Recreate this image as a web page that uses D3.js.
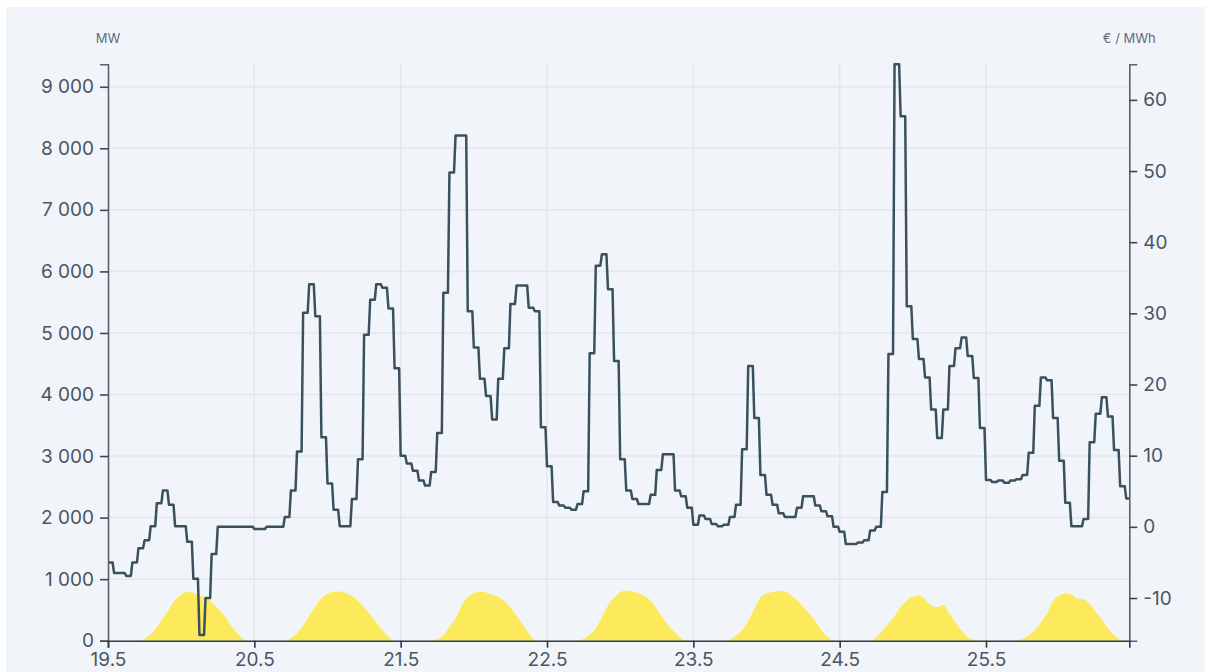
<!DOCTYPE html>
<html>
<head>
<meta charset="utf-8">
<script src="https://cdn.jsdelivr.net/npm/d3@7"></script>
<style>
  html, body { margin: 0; padding: 0; background: #ffffff; }
  svg { display: block; }
  text { font-family: Inter, "Noto Sans", sans-serif; }
</style>
</head>
<body>
<svg id="chart" width="1205" height="672"></svg>
<script>
// ---------------- data ----------------
// hourly values, starting 19 May 00:00
const startDate = new Date(Date.UTC(2024, 4, 19, 0, 0));
const hoursShown = 167.5;

// day-ahead price, €/MWh (right axis)
const priceEUR = [
  // 19.5
  -5.0, -6.5, -6.5, -6.9, -5.0, -3.0, -1.9, 0.1, 3.3, 5.1, 3.1, 0.1, 0.1, -2.1, -7.3, -15.2, -10.0, -3.8, 0, 0, 0, 0, 0, 0,
  // 20.5
  -0.3, -0.3, 0, 0, 0, 1.4, 5.1, 10.6, 30.1, 34.1, 29.6, 12.6, 6.1, 2.4, 0.1, 0.1, 3.9, 9.5, 27.0, 31.9, 34.1, 33.6, 30.7, 22.3,
  // 21.5
  10.0, 8.9, 7.9, 6.5, 5.8, 7.7, 13.2, 32.9, 49.8, 55.0, 55.0, 30.3, 25.2, 20.8, 18.4, 15.1, 20.8, 25.1, 31.3, 33.9, 33.9, 30.8, 30.3, 14.0,
  // 22.5
  8.5, 3.5, 3.0, 2.7, 2.4, 3.2, 5.0, 24.4, 36.7, 38.3, 33.4, 23.3, 9.5, 5.1, 3.9, 3.2, 3.2, 4.5, 8.0, 10.2, 10.2, 5.1, 4.3, 2.7,
  // 23.5
  0.3, 1.6, 1.1, 0.4, 0.1, 0.3, 1.4, 3.1, 10.9, 22.6, 15.3, 7.3, 4.5, 3.1, 1.9, 1.4, 1.4, 2.7, 4.3, 4.3, 3.0, 2.2, 1.5, 0,
  // 24.5
  -0.7, -2.4, -2.4, -2.2, -1.9, -0.5, 0, 4.9, 24.3, 65.2, 57.7, 31.0, 26.4, 23.6, 21.0, 16.5, 12.5, 16.5, 22.6, 25.1, 26.6, 24.0, 20.9, 13.9,
  // 25.5
  6.6, 6.3, 6.5, 6.2, 6.5, 6.7, 7.3, 10.4, 17.0, 21.0, 20.6, 15.3, 9.3, 3.4, 0.1, 0.1, 1.1, 11.9, 15.9, 18.2, 15.5, 10.8, 5.7, 4.0
];

// solar generation, MW (left axis)
const solarMW = [
  // 19.5
  0, 0, 0, 0, 0, 0, 30, 100, 220, 365, 510, 660, 750, 790, 780, 735, 690, 630, 520, 420, 270, 145, 40, 0,
  // 20.5
  0, 0, 0, 0, 0, 0, 40, 120, 250, 400, 560, 690, 760, 795, 800, 775, 730, 650, 540, 420, 290, 170, 60, 0,
  // 21.5
  0, 0, 0, 0, 0, 0, 25, 90, 220, 360, 570, 710, 770, 795, 785, 745, 715, 650, 540, 410, 265, 120, 15, 0,
  // 22.5
  0, 0, 0, 0, 0, 0, 30, 100, 200, 380, 570, 700, 790, 815, 805, 765, 725, 650, 520, 370, 240, 130, 40, 0,
  // 23.5
  0, 0, 0, 0, 0, 0, 20, 80, 170, 320, 520, 700, 765, 790, 810, 800, 740, 660, 550, 440, 320, 170, 60, 5,
  // 24.5
  0, 0, 0, 0, 0, 0, 60, 160, 280, 400, 550, 650, 715, 730, 670, 570, 545, 580, 440, 300, 160, 60, 20, 0,
  // 25.5
  0, 0, 0, 0, 0, 0, 30, 90, 170, 300, 440, 650, 730, 765, 745, 680, 675, 600, 470, 340, 200, 90, 20, 0
];

const leftTicks = [0, 1000, 2000, 3000, 4000, 5000, 6000, 7000, 8000, 9000];
const rightTicks = [-10, 0, 10, 20, 30, 40, 50, 60];
const leftDomain = [0, 9365];
const rightDomain = [-16, 65];
const leftTitle = "MW";
const rightTitle = "€ / MWh";

// ---------------- layout ----------------
const W = 1205, H = 672;
const margin = { top: 64.3, right: 75.7, bottom: 31.3, left: 108 };
const innerW = W - margin.left - margin.right;
const innerH = H - margin.top - margin.bottom;

const hourTime = i => new Date(startDate.getTime() + i * 3600e3);
const endDate = new Date(startDate.getTime() + hoursShown * 3600e3);

const x = d3.scaleUtc().domain([startDate, endDate]).range([margin.left, margin.left + innerW]);
const yL = d3.scaleLinear().domain(leftDomain).range([margin.top + innerH, margin.top]);
const yR = d3.scaleLinear().domain(rightDomain).range([margin.top + innerH, margin.top]);

const dayTicks = d3.utcDay.range(startDate, endDate);

const locale = d3.formatLocale({ decimal: ",", thousands: " ", grouping: [3], currency: ["", " €"], minus: "-" });
const fmtL = locale.format(",");
const fmtR = locale.format("d");
const fmtX = d3.utcFormat("%-d.%-m");

const svg = d3.select("#chart");

// panel background
svg.append("rect").attr("x", 6).attr("y", 7).attr("width", W - 6).attr("height", H - 7).attr("fill", "#f1f5f9");

// grid
const grid = svg.append("g").attr("stroke", "#e2e7ed").attr("stroke-width", 1.5);
grid.selectAll("line.h").data(leftTicks.filter(d => d > 0)).join("line")
  .attr("class", "h")
  .attr("x1", margin.left).attr("x2", margin.left + innerW)
  .attr("y1", d => yL(d)).attr("y2", d => yL(d));
grid.selectAll("line.v").data(dayTicks.slice(1)).join("line")
  .attr("class", "v")
  .attr("x1", d => x(d)).attr("x2", d => x(d))
  .attr("y1", margin.top).attr("y2", margin.top + innerH);

// solar area
const solarData = solarMW.map((v, i) => ({ t: hourTime(i), v }));
const area = d3.area()
  .x(d => x(d.t))
  .y0(yL(0))
  .y1(d => yL(d.v))
  .curve(d3.curveMonotoneX);
svg.append("path").datum(solarData).attr("d", area).attr("fill", "#fdea5c");

// price line: hourly plateaus with a short ramp into the next hour
function RampStep(context) { this._context = context; }
RampStep.prototype = {
  areaStart() { this._line = 0; },
  areaEnd() { this._line = NaN; },
  lineStart() { this._x = this._y = NaN; this._point = 0; this._dx = 0; },
  lineEnd() {
    if (this._point > 0) this._context.lineTo(this._x + this._dx * 0.5, this._y);
  },
  point(px, py) {
    px = +px; py = +py;
    if (this._point === 0) {
      this._point = 1;
      this._context.moveTo(px, py);
    } else {
      this._dx = px - this._x;
      this._context.lineTo(this._x + this._dx * 0.75, this._y);
      this._context.lineTo(px, py);
      this._point = 2;
    }
    this._x = px; this._y = py;
  }
};
const rampStep = ctx => new RampStep(ctx);

const priceData = priceEUR.map((v, i) => ({ t: hourTime(i), v }));
const line = d3.line().x(d => x(d.t)).y(d => yR(Math.min(d.v, rightDomain[1]))).curve(rampStep);
svg.append("path").datum(priceData).attr("d", line)
  .attr("fill", "none").attr("stroke", "#3a505c").attr("stroke-width", 2.5)
  .attr("stroke-linejoin", "round");

// axes
const axisColor = "#56636e";
const labelColor = "#4a5563";

const gL = svg.append("g").attr("transform", `translate(${margin.left},0)`)
  .call(d3.axisLeft(yL).tickValues(leftTicks).tickFormat(fmtL).tickSize(8).tickPadding(6));
const gR = svg.append("g").attr("transform", `translate(${margin.left + innerW},0)`)
  .call(d3.axisRight(yR).tickValues(rightTicks).tickFormat(fmtR).tickSize(8).tickPadding(6));
const gX = svg.append("g").attr("transform", `translate(0,${margin.top + innerH})`)
  .call(d3.axisBottom(x).tickValues(dayTicks).tickFormat(fmtX).tickSize(7).tickPadding(5));

[gL, gR].forEach(g => {
  g.select(".domain").attr("stroke", axisColor).attr("stroke-width", 1.6);
  g.selectAll(".tick line").attr("stroke", "#3d4750").attr("stroke-width", 1.6);
  g.selectAll(".tick text").attr("fill", labelColor).style("font-size", "19px").attr("font-family", null);
});
gX.select(".domain").attr("stroke", "#2f3a42").attr("stroke-width", 1.6);
gX.selectAll(".tick line").attr("stroke", "#2f3a42").attr("stroke-width", 1.6);
gX.selectAll(".tick text").attr("fill", labelColor).style("font-size", "19px").attr("font-family", null);

// axis titles
svg.append("text").attr("x", margin.left).attr("y", 42.7).attr("text-anchor", "middle")
  .attr("fill", "#5f6b78").style("font-size", "13px").text(leftTitle);
svg.append("text").attr("x", margin.left + innerW).attr("y", 42.7).attr("text-anchor", "middle")
  .attr("fill", "#5f6b78").style("font-size", "13px").text(rightTitle);
</script>
</body>
</html>
